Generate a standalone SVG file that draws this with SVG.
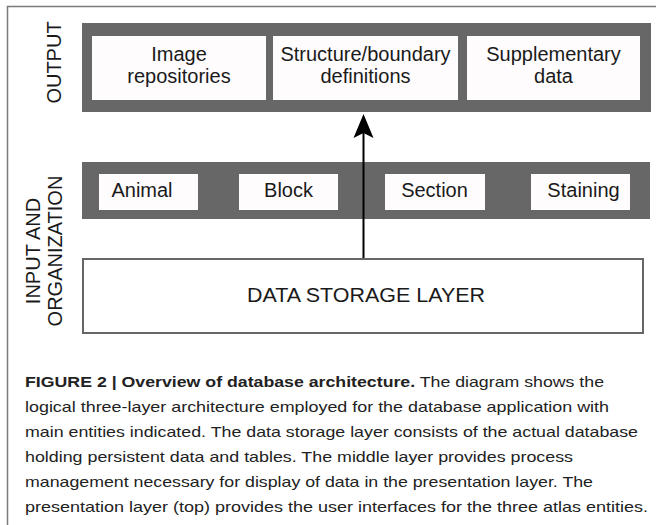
<svg xmlns="http://www.w3.org/2000/svg" width="656" height="525" viewBox="0 0 656 525">
<defs>
<style>
.band{fill:#676767;}
.box{fill:#fefcfd;}
.store{fill:#ffffff;stroke:#666666;stroke-width:2;}
.t{font-family:"Liberation Sans",Arial,sans-serif;font-size:20px;fill:#1a1a1a;text-anchor:middle;}
.side{font-family:"Liberation Sans",Arial,sans-serif;font-size:20px;fill:#1a1a1a;text-anchor:middle;}
.cap{font-family:"Liberation Sans",Arial,sans-serif;font-size:15px;fill:#222222;}
.frame{fill:none;stroke:#7a7a7a;stroke-width:1.5;}
</style>
</defs>
<rect width="656" height="525" fill="#ffffff"/>
<path class="frame" d="M7.5,525 V6.5 H656"/>

<g id="output-label"><text class="side" transform="translate(61,62.5) rotate(-90)">OUTPUT</text></g>
<g id="input-label"><text class="side" transform="translate(40,251) rotate(-90)">INPUT AND</text><text class="side" transform="translate(62,251) rotate(-90)">ORGANIZATION</text></g>

<g id="output-layer"><rect class="band" x="82" y="23" width="569" height="89"/></g>
<g id="image-repositories"><rect class="box" x="92" y="36" width="174" height="64"/><text class="t" x="179" y="61">Image</text><text class="t" x="179" y="83">repositories</text></g>
<g id="structure-definitions"><rect class="box" x="273" y="36" width="185" height="64"/><text class="t" x="365.5" y="61">Structure/boundary</text><text class="t" x="365.5" y="83">definitions</text></g>
<g id="supplementary-data"><rect class="box" x="467" y="36" width="173" height="64"/><text class="t" x="553.5" y="61">Supplementary</text><text class="t" x="553.5" y="83">data</text></g>

<g id="input-layer"><rect class="band" x="82" y="162" width="568" height="57"/></g>
<g id="animal"><rect class="box" x="99" y="174" width="99" height="36"/><text class="t" x="142" y="197">Animal</text></g>
<g id="block"><rect class="box" x="239" y="174" width="99" height="36"/><text class="t" x="288.5" y="197">Block</text></g>
<g id="section"><rect class="box" x="385" y="174" width="100" height="36"/><text class="t" x="434.5" y="197">Section</text></g>
<g id="staining"><rect class="box" x="531" y="174" width="99" height="36"/><text class="t" x="583.5" y="197">Staining</text></g>

<g id="data-storage"><rect class="store" x="83" y="259" width="560" height="74"/><text class="t" x="366" y="302" textLength="238" lengthAdjust="spacingAndGlyphs">DATA STORAGE LAYER</text></g>

<g id="connectors">
<line x1="363.5" y1="258" x2="363.5" y2="132" stroke="#000000" stroke-width="2"/>
<path d="M363.5,114 L373.5,138 L363.5,133 L353.5,138 Z" fill="#000000"/>
</g>

<g id="caption">
<text class="cap" x="25" y="387" textLength="579" lengthAdjust="spacingAndGlyphs"><tspan font-weight="bold">FIGURE 2 | Overview of database architecture.</tspan> The diagram shows the</text>
<text class="cap" x="25" y="412" textLength="584" lengthAdjust="spacingAndGlyphs">logical three-layer architecture employed for the database application with</text>
<text class="cap" x="25" y="437" textLength="613" lengthAdjust="spacingAndGlyphs">main entities indicated. The data storage layer consists of the actual database</text>
<text class="cap" x="25" y="462" textLength="548" lengthAdjust="spacingAndGlyphs">holding persistent data and tables. The middle layer provides process</text>
<text class="cap" x="25" y="487" textLength="568" lengthAdjust="spacingAndGlyphs">management necessary for display of data in the presentation layer. The</text>
<text class="cap" x="25" y="512" textLength="623" lengthAdjust="spacingAndGlyphs">presentation layer (top) provides the user interfaces for the three atlas entities.</text>
</g>
</svg>
